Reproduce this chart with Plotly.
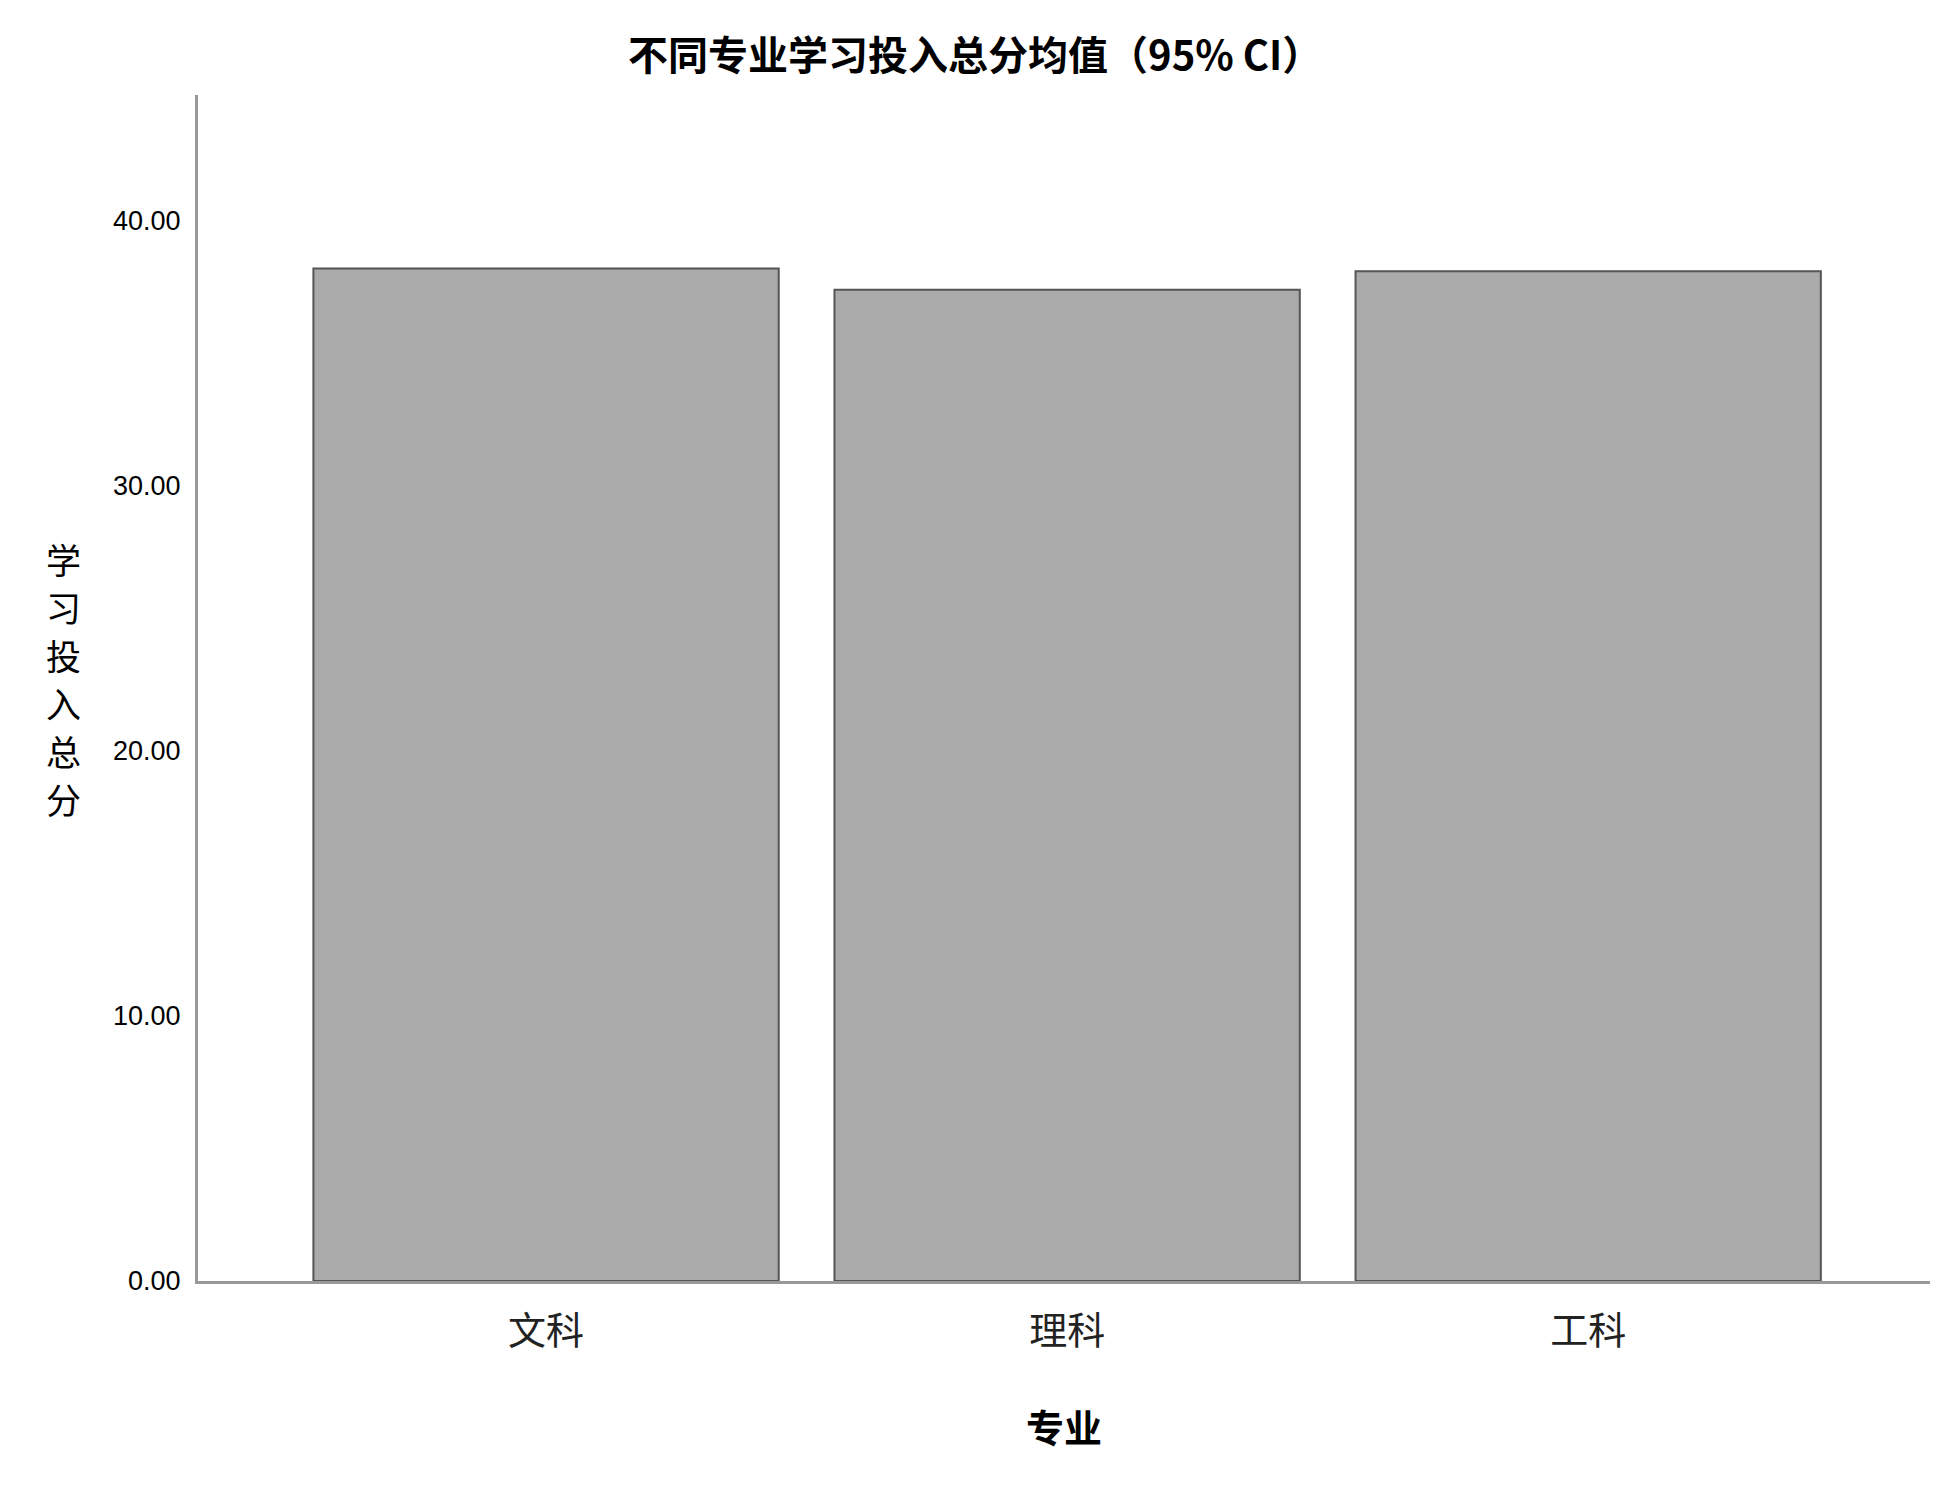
import plotly.graph_objects as go

categories = ["文科", "理科", "工科"]
means = [38.2, 37.4, 38.1]
y_ticks = [0, 10, 20, 30, 40]
y_tick_labels = ["0.00", "10.00", "20.00", "30.00", "40.00"]

title_text = "不同专业学习投入总分均值（95% CI）"
y_title = "学习投入总分"
x_title = "专业"

CJK = "Noto Sans CJK SC"

fig = go.Figure()
fig.add_trace(go.Bar(
    x=categories,
    y=means,
    marker=dict(color="#AAAAAA", line=dict(color="#555555", width=2)),
    showlegend=False,
))

annotations = []
n = len(y_title)
for i, ch in enumerate(y_title):
    annotations.append(dict(
        text=ch,
        xref="paper", yref="paper", x=0, y=0.508,
        xanchor="center", yanchor="middle",
        xshift=-135, yshift=((n - 1) / 2 - i) * 48,
        showarrow=False, borderpad=0,
        font=dict(family=CJK, size=35, color="black"),
    ))
annotations.append(dict(
    text=x_title,
    xref="paper", yref="paper", x=0.5, y=0,
    xanchor="center", yanchor="middle", yshift=-144,
    showarrow=False,
    font=dict(family=CJK, size=38, color="black", weight="bold"),
))

fig.update_layout(
    width=1950,
    height=1500,
    paper_bgcolor="white",
    plot_bgcolor="white",
    margin=dict(l=190, r=28, t=87, b=227),
    bargap=0.107,
    title=dict(
        text=title_text,
        x=0.496, xref="container", xanchor="center",
        y=1 - 48 / 1500, yref="container", yanchor="middle",
        font=dict(family=CJK, size=40, color="black", weight="bold"),
    ),
    xaxis=dict(
        type="category",
        range=[-0.668, 2.656],
        showline=True, linecolor="#999999", linewidth=3,
        showgrid=False, zeroline=False, ticks="",
        tickfont=dict(family=CJK, size=38, color="#222222"),
        ticklabelstandoff=14,
    ),
    yaxis=dict(
        range=[0, 44.75],
        tickvals=y_ticks, ticktext=y_tick_labels,
        showline=True, linecolor="#999999", linewidth=3,
        showgrid=False, zeroline=False, ticks="",
        tickfont=dict(family="Liberation Sans Narrow, Liberation Sans, Arial", size=27, color="black"),
        ticklabelstandoff=9,
    ),
    annotations=annotations,
)

fig.write_html("out.html")
